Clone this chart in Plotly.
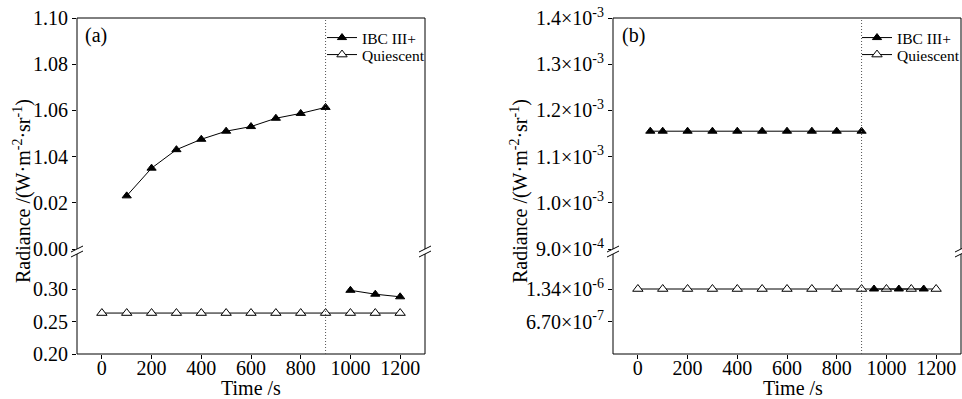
import plotly.graph_objects as go

FONT = "Liberation Serif, DejaVu Serif, Times New Roman, serif"
W, H = 962, 399

# ---------------- data ----------------
# panel (a)
time_ibc_a_before = [100, 200, 300, 400, 500, 600, 700, 800, 900]
ibc_a_before = [1.023, 1.035, 1.043, 1.0475, 1.051, 1.053, 1.0566, 1.0587, 1.0613]
time_ibc_a_after = [1000, 1100, 1200]
ibc_a_after = [0.298, 0.292, 0.288]
time_quiescent = [0, 100, 200, 300, 400, 500, 600, 700, 800, 900, 1000, 1100, 1200]
quiescent_a = [0.263, 0.263, 0.263, 0.263, 0.263, 0.263, 0.263, 0.263, 0.263, 0.263, 0.263, 0.263, 0.263]

# panel (b)
time_ibc_b_before = [50, 100, 200, 300, 400, 500, 600, 700, 800, 900]
ibc_b_before = [1.155e-3, 1.155e-3, 1.155e-3, 1.155e-3, 1.155e-3, 1.155e-3, 1.155e-3, 1.155e-3, 1.155e-3, 1.155e-3]
time_ibc_b_after = [950, 1050, 1150]
ibc_b_after = [1.34e-6, 1.34e-6, 1.34e-6]
quiescent_b = [1.34e-6, 1.34e-6, 1.34e-6, 1.34e-6, 1.34e-6, 1.34e-6, 1.34e-6, 1.34e-6, 1.34e-6, 1.34e-6, 1.34e-6, 1.34e-6, 1.34e-6]

# ticks
x_ticks = [0, 200, 400, 600, 800, 1000, 1200]
a_low_tickvals = [0.20, 0.25, 0.30]
a_low_ticktext = ["0.20", "0.25", "0.30"]
a_up_tickvals = [1.00, 1.02, 1.04, 1.06, 1.08, 1.10]
a_up_ticktext = ["0.00", "0.02", "1.04", "1.06", "1.08", "1.10"]
b_low_tickvals = [6.7e-7, 1.34e-6]
b_low_ticktext = ["6.70×10<sup>-7</sup>", "1.34×10<sup>-6</sup>"]
b_up_tickvals = [9.0e-4, 1.0e-3, 1.1e-3, 1.2e-3, 1.3e-3, 1.4e-3]
b_up_ticktext = ["9.0×10<sup>-4</sup>", "1.0×10<sup>-3</sup>", "1.1×10<sup>-3</sup>",
                 "1.2×10<sup>-3</sup>", "1.3×10<sup>-3</sup>", "1.4×10<sup>-3</sup>"]

# ---------------- layout helpers (pixels -> paper) ----------------
def px(x):
    return x / W

def py(y):
    return 1 - y / H

A_L, A_R = 77, 425
B_L, B_R = 613, 961
TOP, BOT = 18, 354
UP_BOT, LOW_TOP = 249, 252

fig = go.Figure()

filled = dict(symbol="triangle-up", size=8, color="black", line=dict(color="black", width=1))
hollow = dict(symbol="triangle-up", size=9, color="white", line=dict(color="black", width=1))
line = dict(color="black", width=1)

# panel (a)
fig.add_trace(go.Scatter(x=time_ibc_a_before, y=ibc_a_before, xaxis="x", yaxis="y2",
                         mode="lines+markers", marker=filled, line=line,
                         name="IBC III+", legend="legend"))
fig.add_trace(go.Scatter(x=time_ibc_a_after, y=ibc_a_after, xaxis="x", yaxis="y",
                         mode="lines+markers", marker=filled, line=line,
                         name="IBC III+", showlegend=False))
fig.add_trace(go.Scatter(x=time_quiescent, y=quiescent_a, xaxis="x", yaxis="y",
                         mode="lines+markers", marker=hollow, line=line,
                         name="Quiescent", legend="legend2"))

# panel (b)
fig.add_trace(go.Scatter(x=time_ibc_b_before, y=ibc_b_before, xaxis="x2", yaxis="y4",
                         mode="lines+markers", marker=filled, line=line,
                         name="IBC III+", legend="legend3"))
fig.add_trace(go.Scatter(x=time_quiescent, y=quiescent_b, xaxis="x2", yaxis="y3",
                         mode="lines+markers", marker=hollow, line=line,
                         name="Quiescent", legend="legend4"))
fig.add_trace(go.Scatter(x=time_ibc_b_after, y=ibc_b_after, xaxis="x2", yaxis="y3",
                         mode="lines+markers", marker=filled, line=line,
                         name="IBC III+", showlegend=False))

tickfont = dict(family=FONT, size=20, color="black")
common_axis = dict(showgrid=False, zeroline=False, showline=False, ticks="outside",
                   ticklen=4, tickwidth=1, tickcolor="black", tickfont=tickfont,
                   automargin=False)

title_font = dict(family=FONT, size=20, color="black")

def leg(xp, yp):
    return dict(x=px(xp), y=py(yp), xanchor="left", yanchor="middle",
                bgcolor="rgba(0,0,0,0)", borderwidth=0, itemwidth=30, tracegroupgap=0,
                font=dict(family=FONT, size=15.5, color="black"))

fig.update_layout(
    width=W, height=H,
    margin=dict(l=0, r=0, t=0, b=0, pad=0, autoexpand=False),
    paper_bgcolor="white", plot_bgcolor="white",
    font=dict(family=FONT, color="black"),
    xaxis=dict(domain=[px(A_L), px(A_R)], range=[-100, 1300], anchor="y",
               tickvals=x_ticks, ticklabelstandoff=-8, **common_axis),
    xaxis2=dict(domain=[px(B_L), px(B_R)], range=[-100, 1300], anchor="y3",
                tickvals=x_ticks, ticklabelstandoff=-8, **common_axis),
    yaxis=dict(domain=[py(BOT), py(LOW_TOP)], range=[0.20, 0.20 + (BOT - LOW_TOP) / 650.0],
               anchor="x", tickvals=a_low_tickvals, ticktext=a_low_ticktext, **common_axis),
    yaxis2=dict(domain=[py(UP_BOT), py(TOP)], range=[1.00, 1.10], anchor="x",
                tickvals=a_up_tickvals, ticktext=a_up_ticktext, **common_axis),
    yaxis3=dict(domain=[py(BOT), py(LOW_TOP)], range=[0, (BOT - LOW_TOP) / 32.5 * 6.7e-7],
                anchor="x2", tickvals=b_low_tickvals, ticktext=b_low_ticktext, **common_axis),
    yaxis4=dict(domain=[py(UP_BOT), py(TOP)], range=[9.0e-4, 1.4e-3], anchor="x2",
                tickvals=b_up_tickvals, ticktext=b_up_ticktext, **common_axis),
    legend=leg(322, 38),
    legend2=leg(322, 55),
    legend3=leg(857, 38),
    legend4=leg(857, 55),
    showlegend=True,
)

shapes = []
# frames
for L, R in [(A_L, A_R), (B_L, B_R)]:
    shapes.append(dict(type="rect", xref="paper", yref="paper",
                       x0=px(L), x1=px(R), y0=py(BOT), y1=py(TOP),
                       line=dict(color="black", width=1), layer="above"))
# vertical dotted line at t=900
for xr in ["x", "x2"]:
    shapes.append(dict(type="line", xref=xr, yref="paper", x0=900, x1=900,
                       y0=py(BOT), y1=py(TOP), line=dict(color="#555", width=1, dash="1px,2px")))
# break marks
for bx in [A_L, A_R, B_L, B_R]:
    shapes.append(dict(type="rect", xref="paper", yref="paper",
                       x0=px(bx - 2), x1=px(bx + 2), y0=py(254), y1=py(249),
                       line=dict(width=0), fillcolor="white", layer="above"))
    for cy in [249, 254]:
        shapes.append(dict(type="line", xref="paper", yref="paper",
                           x0=px(bx - 6), y0=py(cy + 3), x1=px(bx + 6), y1=py(cy - 3),
                           line=dict(color="black", width=1), layer="above"))
fig.update_layout(shapes=shapes)

def txt(text, x, y, angle=0, size=20):
    return dict(text=text, x=px(x), y=py(y), xref="paper", yref="paper",
                xanchor="center", yanchor="middle", showarrow=False, textangle=angle,
                font=dict(family=FONT, size=size, color="black"))

annotations = [
    txt("(a)", 96, 35),
    txt("(b)", 633, 35),
    txt("Radiance /(W·m<sup>-2</sup>·sr<sup>-1</sup>)", 22, 191, angle=-90),
    txt("Radiance /(W·m<sup>-2</sup>·sr<sup>-1</sup>)", 519, 191, angle=-90),
    txt("Time /s", (A_L + A_R) / 2, 388),
    txt("Time /s", (B_L + B_R) / 2 + 6, 388),
]
fig.update_layout(annotations=annotations)

fig.write_html("out.html")
